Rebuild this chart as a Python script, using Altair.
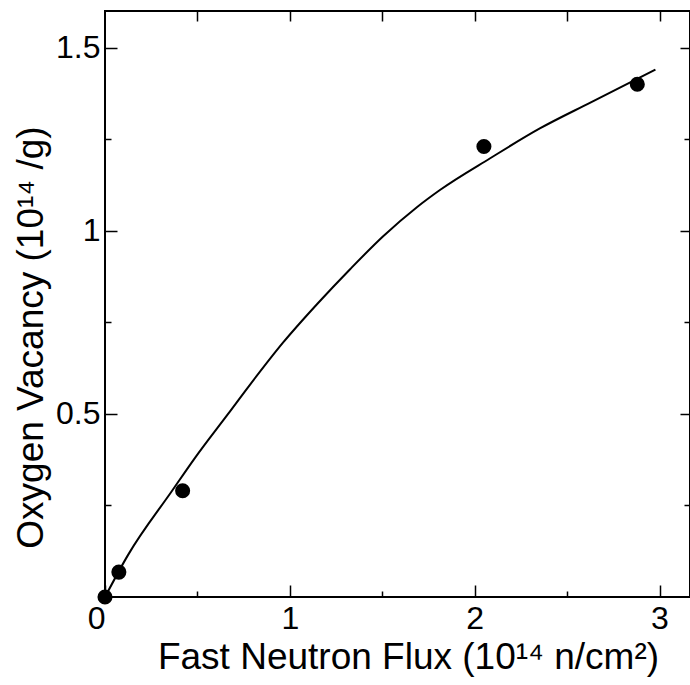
import altair as alt
import pandas as pd

# Measured points
pt_flux = [0.0, 0.075, 0.42, 2.05, 2.88]
pt_vac = [0.0, 0.068, 0.29, 1.23, 1.40]

# Fitted curve
fit_flux = [0.0, 0.125, 0.363, 0.487, 0.666, 0.785, 0.964, 1.148, 1.326, 1.505, 1.689, 1.814, 2.084, 2.355, 2.626, 2.978]
fit_vac = [0.0, 0.115, 0.29, 0.38, 0.50, 0.58, 0.695, 0.80, 0.895, 0.985, 1.065, 1.112, 1.198, 1.28, 1.35, 1.44]

# Tick values
x_major = [0, 1, 2, 3]
x_minor = [0.5, 1.5, 2.5]
x_top = [0.5, 1, 1.5, 2, 2.5, 3]
y_major = [0.5, 1, 1.5]
y_minor = [0.25, 0.75, 1.25]

pts = pd.DataFrame({"flux": pt_flux, "vac": pt_vac})
fit = pd.DataFrame({"flux": fit_flux, "vac": fit_vac})

xs = alt.Scale(domain=[0, 3.165], nice=False, zero=False)
ys = alt.Scale(domain=[0, 1.6], nice=False, zero=False)
FONT = "Liberation Sans"

line = alt.Chart(fit).mark_line(color="black", strokeWidth=2, interpolate="monotone").encode(
    x=alt.X("flux:Q", scale=xs, axis=alt.Axis(
        orient="bottom", values=x_major, tickSize=12, offset=-12, domain=False, grid=False,
        labelPadding=6, format="~g",
        labelAlign={"condition": {"test": "datum.value === 0", "value": "right"}, "value": "center"},
        title="Fast Neutron Flux (10¹⁴ n/cm²)", titleX=303, titleY=83,
        titleBaseline="alphabetic", titleAlign="center")),
    y=alt.Y("vac:Q", scale=ys, axis=alt.Axis(
        orient="left", values=y_major, tickSize=12, offset=-12, domain=False, grid=False,
        labelPadding=5, format="~g",
        title="Oxygen Vacancy (10¹⁴ /g)", titleX=-75, titleY=326, titleAngle=-90,
        titleBaseline="alphabetic", titleAlign="center")),
)

dots = alt.Chart(pts).mark_circle(color="black", opacity=1, size=227).encode(
    x=alt.X("flux:Q", scale=xs, axis=alt.Axis(
        orient="bottom", values=x_minor, tickSize=6, offset=-6, domain=False, grid=False,
        labels=False, title=None)),
    y=alt.Y("vac:Q", scale=ys, axis=alt.Axis(
        orient="left", values=y_minor, tickSize=6, offset=-6, domain=False, grid=False,
        labels=False, title=None)),
)

ghost1 = alt.Chart(pts).mark_point(opacity=0).encode(
    x=alt.X("flux:Q", scale=xs, axis=alt.Axis(
        orient="top", values=x_top, tickSize=10, offset=-10, domain=False, grid=False,
        labels=False, title=None)),
    y=alt.Y("vac:Q", scale=ys, axis=alt.Axis(
        orient="right", values=y_major, tickSize=10, offset=-10, domain=False, grid=False,
        labels=False, title=None)),
)

ghost2 = alt.Chart(pts).mark_point(opacity=0).encode(
    x=alt.X("flux:Q", scale=xs, axis=None),
    y=alt.Y("vac:Q", scale=ys, axis=alt.Axis(
        orient="right", values=y_minor, tickSize=6, offset=-6, domain=False, grid=False,
        labels=False, title=None)),
)

chart = alt.layer(line, dots, ghost1, ghost2).resolve_axis(
    x="independent", y="independent"
).properties(
    width=585, height=586,
    autosize=alt.AutoSizeParams(type="none"),
    padding={"left": 105, "top": 11, "right": 0, "bottom": 88},
    background="white",
).configure_view(
    stroke="black", strokeWidth=2
).configure_axis(
    labelFont=FONT, labelFontSize=32, labelColor="black",
    titleFont=FONT, titleFontSize=37, titleFontWeight="normal", titleColor="black",
    tickColor="black", tickWidth=1.5,
)

chart.save("out.html", embed_options={"renderer": "svg", "actions": False})
